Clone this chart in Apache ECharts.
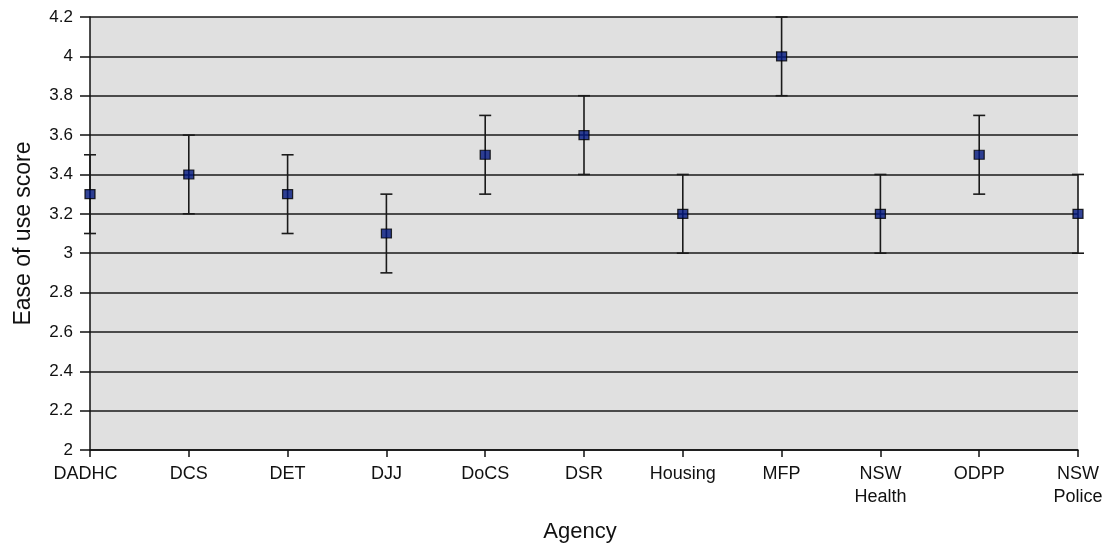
<!DOCTYPE html>
<html>
<head>
<meta charset="utf-8">
<script src="https://cdn.jsdelivr.net/npm/echarts@6/dist/echarts.min.js"></script>
<style>
html,body{margin:0;padding:0;background:#fff;}
#chart{width:1106px;height:549px;}
</style>
</head>
<body>
<div id="chart"></div>
<script>
const categories = ['DADHC','DCS','DET','DJJ','DoCS','DSR','Housing','MFP','NSW\nHealth','ODPP','NSW\nPolice'];
const means = [3.3,3.4,3.3,3.1,3.5,3.6,3.2,4.0,3.2,3.5,3.2];
const lows  = [3.1,3.2,3.1,2.9,3.3,3.4,3.0,3.8,3.0,3.3,3.0];
const highs = [3.5,3.6,3.5,3.3,3.7,3.8,3.4,4.2,3.4,3.7,3.4];
const yTicks = {min:2, max:4.2, interval:0.2};

const errData = categories.map((c,i)=>[i, lows[i], highs[i]]);
const font = '"Liberation Sans", Arial, sans-serif';
const xAxisData = categories.map((c,i)=> i===0 ? {value:c, textStyle:{padding:[0,9,0,0]}} : c);

const chart = echarts.init(document.getElementById('chart'), null, {renderer:'canvas'});
chart.setOption({
  animation:false,
  backgroundColor:'#ffffff',
  grid:{left:90, right:28, top:17, bottom:99, show:true, backgroundColor:'#e0e0e0', borderWidth:0,
        containLabel:false, outerBoundsMode:'none'},
  xAxis:{
    type:'category', data:xAxisData, boundaryGap:false,
    name:'Agency', nameLocation:'middle', nameGap:71,
    nameTextStyle:{fontFamily:font, fontSize:22, color:'#111', padding:[0,8,0,0]},
    axisLine:{lineStyle:{color:'#111', width:1.5}},
    axisTick:{alignWithLabel:true, length:7, lineStyle:{color:'#111', width:1.5}},
    axisLabel:{interval:0, margin:13, fontFamily:font, fontSize:18, color:'#111', lineHeight:23},
    splitLine:{show:false}
  },
  yAxis:{
    type:'value', min:yTicks.min, max:yTicks.max, interval:yTicks.interval,
    name:'Ease of use score', nameLocation:'middle', nameGap:55, nameRotate:90,
    nameTextStyle:{fontFamily:font, fontSize:23, color:'#111'},
    axisLine:{show:true, lineStyle:{color:'#111', width:1.5}},
    axisTick:{show:true, length:10, lineStyle:{color:'#111', width:1.5}},
    axisLabel:{margin:17, fontFamily:font, fontSize:17, color:'#111',
      formatter:v=>String(+v.toFixed(1))},
    splitLine:{show:true, lineStyle:{color:'#1a1a1a', width:1.6}}
  },
  series:[
    {
      type:'custom', data:errData, z:3,
      renderItem:(params, api)=>{
        const x = api.value(0);
        const lo = api.coord([x, api.value(1)]);
        const hi = api.coord([x, api.value(2)]);
        const cw = 6;
        const st = {stroke:'#1a1a1a', lineWidth:1.6};
        return {type:'group', children:[
          {type:'line', shape:{x1:lo[0], y1:lo[1], x2:hi[0], y2:hi[1]}, style:st},
          {type:'line', shape:{x1:lo[0]-cw, y1:lo[1], x2:lo[0]+cw, y2:lo[1]}, style:st},
          {type:'line', shape:{x1:hi[0]-cw, y1:hi[1], x2:hi[0]+cw, y2:hi[1]}, style:st}
        ]};
      }
    },
    {
      type:'scatter', data:means, symbol:'rect', symbolSize:[10,9], z:4,
      itemStyle:{color:'#00157d', borderColor:'#000', borderWidth:1.2}
    }
  ]
});
</script>
</body>
</html>
